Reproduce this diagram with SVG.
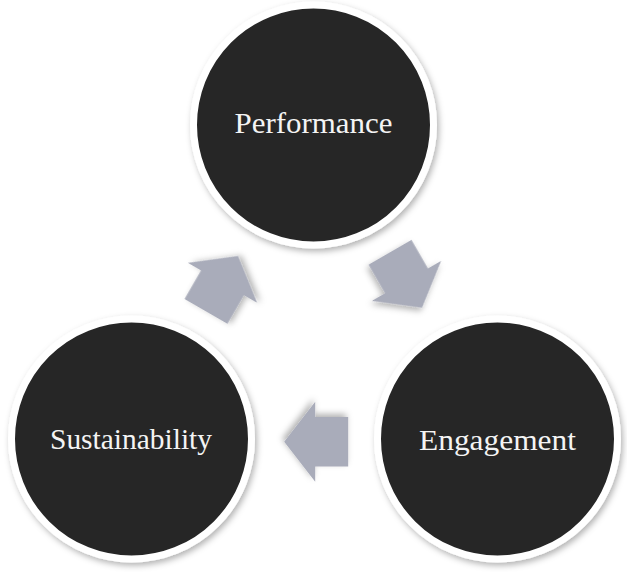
<svg xmlns="http://www.w3.org/2000/svg" width="627" height="572" viewBox="0 0 627 572">
  <defs>
    <filter id="shadow" x="-20%" y="-20%" width="140%" height="140%">
      <feDropShadow dx="2" dy="3" stdDeviation="3" flood-color="#000" flood-opacity="0.3"/>
    </filter>
    <!-- block arrow pointing along +x, centred on the origin -->
    <polygon id="blockArrow" points="32,0 1,40 1,24.7 -32,24.7 -32,-24.7 1,-24.7 1,-40"/>
    <style>
      .node circle { fill: #262626; stroke: #ffffff; stroke-width: 7; filter: url(#shadow); }
      .node text { fill: #f4f4f4; font-family: "Liberation Serif", "DejaVu Serif", serif; font-size: 29px; text-anchor: middle; }
      .arrow { fill: #A9ACBA; filter: url(#shadow); }
    </style>
  </defs>
  <rect width="627" height="572" fill="#ffffff"/>

  <g id="connectors">
    <use href="#blockArrow" class="arrow" transform="translate(222,283.7) rotate(-60)"/>
    <use href="#blockArrow" class="arrow" transform="translate(406,280) rotate(60)"/>
    <use href="#blockArrow" class="arrow" transform="translate(316.2,441.7) rotate(180)"/>
  </g>

  <g id="performance" class="node">
    <circle cx="313.5" cy="125" r="120"/>
    <text x="313.5" y="133" textLength="158" lengthAdjust="spacingAndGlyphs">Performance</text>
  </g>
  <g id="sustainability" class="node">
    <circle cx="131.5" cy="439" r="120"/>
    <text x="131" y="449" textLength="162" lengthAdjust="spacingAndGlyphs">Sustainability</text>
  </g>
  <g id="engagement" class="node">
    <circle cx="497.5" cy="439" r="120"/>
    <text x="497.5" y="450" textLength="157" lengthAdjust="spacingAndGlyphs">Engagement</text>
  </g>
</svg>
